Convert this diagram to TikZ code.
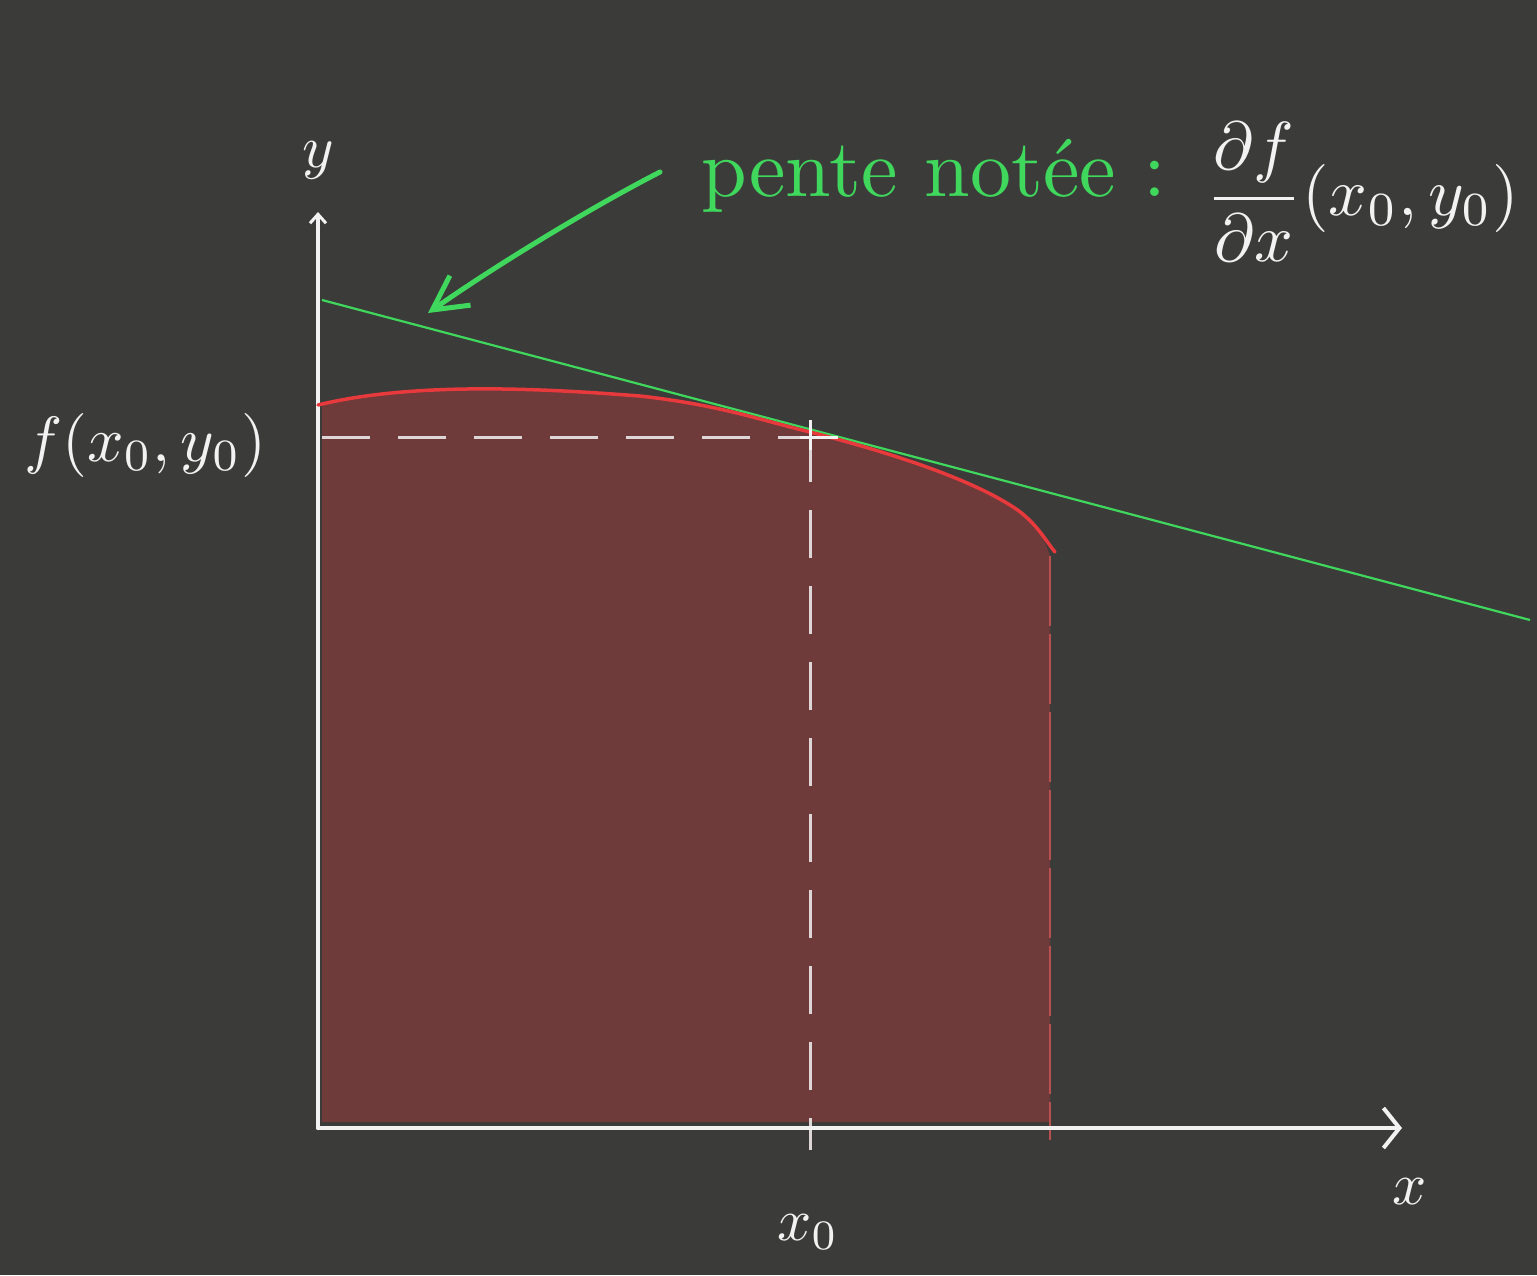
\documentclass[tikz,border=0pt]{standalone}
\usepackage{amsmath}
\usetikzlibrary{arrows.meta}
\definecolor{board}{HTML}{3B3B3A}
\definecolor{areafill}{HTML}{6E3A3A}
\definecolor{curvered}{HTML}{E8393C}
\definecolor{chalkgreen}{HTML}{3FD85C}
\definecolor{chalkwhite}{HTML}{F2F2F2}
\definecolor{edgered}{HTML}{B85050}
\begin{document}
\begin{tikzpicture}[x=1pt,y=-1pt,
  chalk/.style={draw=chalkwhite,line width=4pt,line cap=round},
  dashline/.style={draw=chalkwhite!85!areafill,line width=3pt,dash pattern=on 48pt off 28pt},
  lbl/.style={text=chalkwhite,inner sep=0pt},
  greenlbl/.style={text=chalkgreen,inner sep=0pt}]
\fill[board] (0,0) rectangle (1537,1275);
\useasboundingbox (0,0) rectangle (1537,1275);
% coordinates
\coordinate (O) at (318,1128);
\coordinate (ytop) at (318,212);
\coordinate (xend) at (1402,1128);
\coordinate (P) at (810,434);
\coordinate (hstart) at (322,437);
\coordinate (hend) at (800,437);
\coordinate (vend) at (810,1150);
\coordinate (edgetop) at (1050,556);
\coordinate (edgebot) at (1050,1140);
\coordinate (tanA) at (322,300);
\coordinate (tanB) at (1530,620);
\coordinate (arrowstart) at (660,172);
\coordinate (arrowtip) at (428,313);
% shaded area
\fill[areafill] (322,405) .. controls (420,380) and (560,390) .. (640,396)
  .. controls (720,405) and (760,420) .. (810,432)
  .. controls (900,455) and (970,480) .. (1010,505)
  .. controls (1035,520) and (1045,540) .. (1050,556)
  -- (1050,1122) -- (322,1122) -- cycle;
% dashed guides
\draw[dashline] (hstart) -- (hend);
\draw[dashline] (P) -- (vend);
\draw[draw=edgered,line width=2pt,dash pattern=on 70pt off 8pt] (edgetop) -- (edgebot);
% axes
\draw[chalk,-{Straight Barb[length=9pt,width=16pt,line width=3pt]}] (O) -- (ytop);
\draw[chalk,-{Straight Barb[length=16pt,width=40pt,line width=4pt]}] (O) -- (xend);
% tangent
\draw[chalkgreen,line width=2.2pt] (tanA) -- (tanB);
% red curve
\draw[curvered,line width=3.5pt,line cap=round] (318,405) .. controls (420,380) and (560,390) .. (640,396)
  .. controls (720,405) and (760,420) .. (810,432)
  .. controls (900,455) and (970,480) .. (1010,505)
  .. controls (1035,520) and (1045,540) .. (1055,552);
% point mark
\draw[chalkwhite,line width=3pt] (810,420) -- (810,450) (800,437) -- (838,437);
% labels
\node[lbl,scale=6] (ylab) at (318,160) {$y$};
\node[lbl,scale=6] (xlab) at (1410,1192) {$x$};
\node[lbl,scale=6] (x0lab) at (808,1232) {$x_0$};
\node[lbl,scale=6.4] (flab) at (145,445) {$f(x_0,y_0)$};
\node[greenlbl,scale=8.2,anchor=west] (pente) at (700,176) {pente notée :};
\node[lbl,scale=6.8] (deriv) at (1362,192) {$\dfrac{\partial f}{\partial x}(x_0,y_0)$};
% green arrow
\draw[chalkgreen,line width=5pt,line cap=round,-{Straight Barb[length=34pt,width=36pt,line width=5pt]}]
  (arrowstart) .. controls (590,208) and (495,266) .. (arrowtip);
\end{tikzpicture}
\end{document}
